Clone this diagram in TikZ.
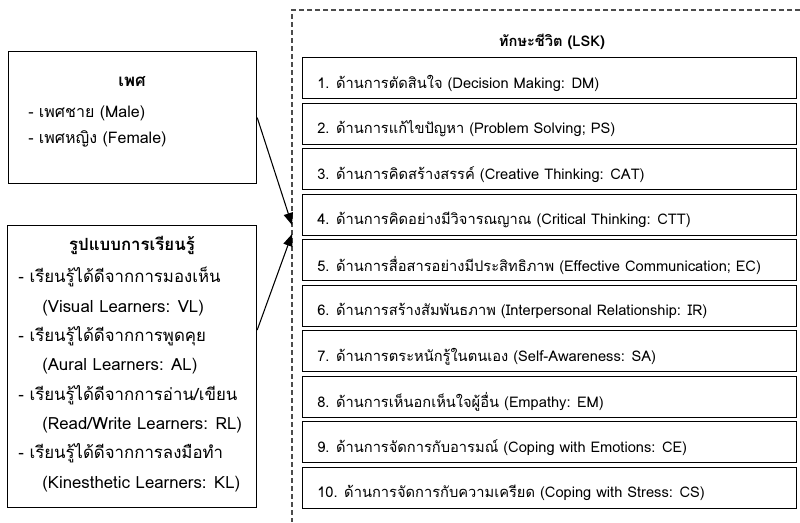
\documentclass[tikz,border=0pt]{standalone}
\usepackage{fontspec}
\setmainfont[Script=Thai]{Loma}
\usetikzlibrary{arrows.meta}

\begin{document}
\begin{tikzpicture}
				[x=0.75pt, y=-0.75pt,
				leftbox/.style = {draw, line width=0.9pt, anchor=north west, inner sep=0pt},
				skillbox/.style = {draw, line width=1.1pt, anchor=north west, inner sep=0pt,
				minimum width=370.5pt, minimum height=30.75pt},
				txt/.style = {inner sep=0pt, font=\fontsize{11}{13}\selectfont},
				head/.style = {txt, font=\fontsize{11}{13}\selectfont\bfseries},
				lefthead/.style = {txt, font=\fontsize{12.6}{15}\selectfont\bfseries},
				arrow/.style = {-{Triangle[length=9pt, width=7pt]}, line width=0.8pt}]
				\useasboundingbox (0,0) rectangle (800,522);
				% left boxes
				\node[leftbox, minimum width=186pt, minimum height=99pt] (sexbox) at (8,51) {};
				\node[lefthead] (sextitle) at (132,82) {เพศ};
				\node[txt, anchor=west, align=left, font=\fontsize{12}{19.5}\selectfont] (sexitems) at (28,126)
					{- เพศชาย (Male)\\- เพศหญิง (Female)};
				\node[leftbox, minimum width=186.75pt, minimum height=211.5pt] (learnbox) at (7,225) {};
				\node[lefthead] (learntitle) at (132,245) {รูปแบบการเรียนรู้};
				\node[txt, anchor=west, align=left, font=\fontsize{12.6}{22}\selectfont] (learnitems) at (18,379.5)
					{- เรียนรู้ได้ดีจากการมองเห็น\\
					\hspace*{18pt}(Visual Learners: VL)\\
					- เรียนรู้ได้ดีจากการพูดคุย\\
					\hspace*{18pt}(Aural Learners: AL)\\
					- เรียนรู้ได้ดีจากการอ่าน/เขียน\\
					\hspace*{18pt}(Read/Write Learners: RL)\\
					- เรียนรู้ได้ดีจากการลงมือทำ\\
					\hspace*{18pt}(Kinesthetic Learners: KL)};
				% life skills
				\draw[dashed, dash pattern=on 3.75pt off 2.25pt, line width=0.8pt, black!70] (800,10) -| (292,522);
				\node[head] (lsktitle) at (552,42) {ทักษะชีวิต (LSK)};
				\foreach \t [count=\i] in {
					1. ด้านการตัดสินใจ (Decision Making: DM),
					2. ด้านการแก้ไขปัญหา (Problem Solving; PS),
					3. ด้านการคิดสร้างสรรค์ (Creative Thinking: CAT),
					4. ด้านการคิดอย่างมีวิจารณญาณ (Critical Thinking: CTT),
					5. ด้านการสื่อสารอย่างมีประสิทธิภาพ (Effective Communication; EC),
					6. ด้านการสร้างสัมพันธภาพ (Interpersonal Relationship: IR),
					7. ด้านการตระหนักรู้ในตนเอง (Self-Awareness: SA),
					8. ด้านการเห็นอกเห็นใจผู้อื่น (Empathy: EM),
					9. ด้านการจัดการกับอารมณ์ (Coping with Emotions: CE),
					10. ด้านการจัดการกับความเครียด (Coping with Stress: CS)} {
					\pgfmathsetmacro\y{57+(\i-1)*45.5}
					\node[skillbox] (s\i) at (302,\y) {};
					\node[txt, anchor=west] (t\i) at ([xshift=11.25pt, yshift=-4pt]s\i.west) {\t};
				}
				% arrows
				\coordinate (in1) at (292,225);
				\coordinate (in2) at (292,234);
				\coordinate (out2) at ([yshift=-78.75pt]learnbox.north east);
				\draw[arrow] (sexbox.east) -- (in1);
				\draw[arrow] (out2) -- (in2);
			\end{tikzpicture}
\end{document}
